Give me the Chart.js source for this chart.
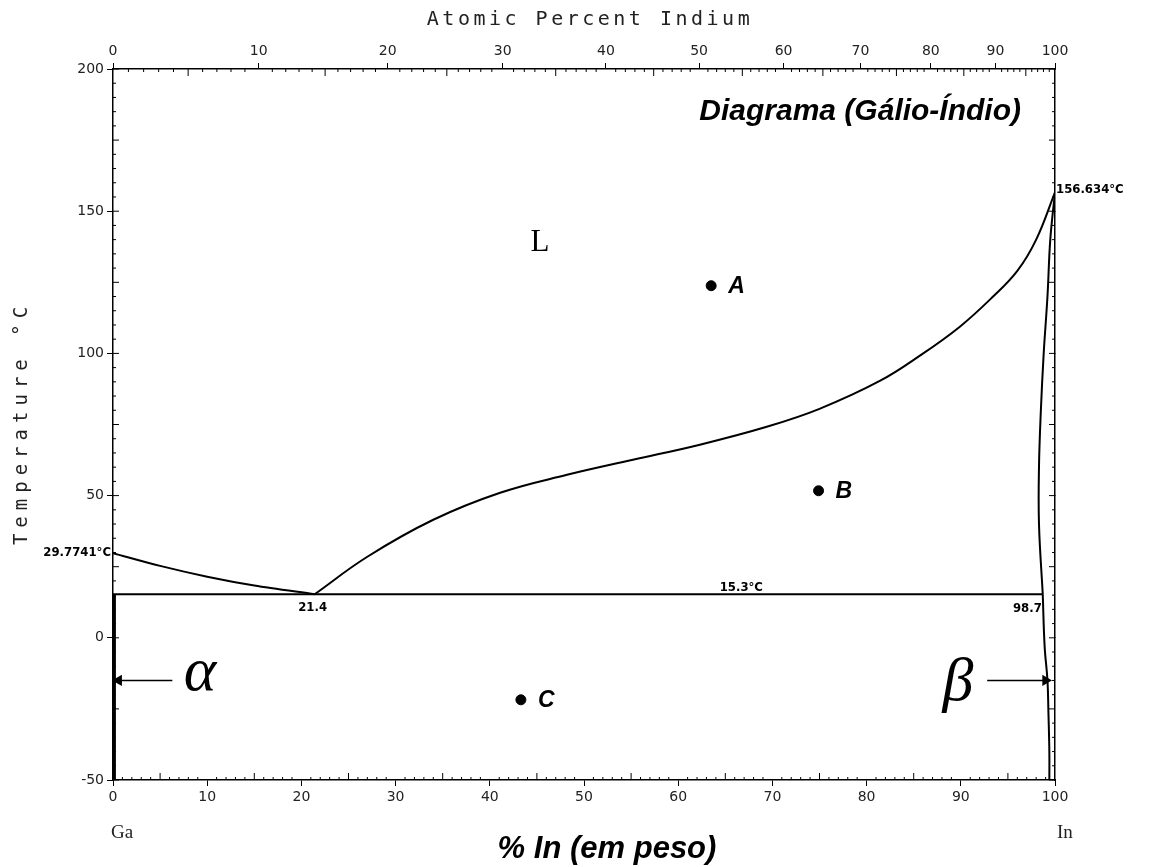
<!DOCTYPE html>
<html>
<head>
<meta charset="utf-8">
<script src="https://cdn.jsdelivr.net/npm/chart.js@4.4.1/dist/chart.umd.min.js"></script>
<style>
  body { margin: 0; background: #fff; }
  #wrap { width: 1157px; height: 867px; position: relative; }
</style>
</head>
<body>
<div id="wrap"><canvas id="chart"></canvas></div>
<script>
// weight percent In on x, temperature (°C) on y
const liqLeftX = [0, 5, 10, 15, 21.4];
const liqLeftT = [29.7741, 25.3, 21.5, 18.4, 15.3];

const liqRightX = [21.4, 27.0, 34.0, 41.1, 48.2, 55.2, 62.3, 69.4, 75.0, 81.4, 85.7, 89.9, 93.4, 96.0, 98.0, 100];
const liqRightT = [15.3, 28.5, 41.5, 51.0, 57.3, 62.6, 67.9, 74.2, 80.5, 90.3, 99.3, 109.4, 119.9, 129, 140, 156.634];

const solidusX = [98.7, 98.3, 98.3, 98.5, 98.8, 99.2, 99.5, 100];
const solidusT = [15.3, 40, 60, 80, 100, 120, 140, 156.634];

const solvusX = [98.7, 98.9, 99.2, 99.3, 99.4, 99.4];
const solvusT = [15.3, -3, -15, -26, -40, -50];

const eutecticX = [0, 98.7];
const eutecticT = [15.3, 15.3];

const alphaX = [0.15, 0.15];
const alphaT = [-50, 15.3];

const alphaArrowX = [6.3, 0.6];
const betaArrowX = [92.8, 99.0];
const arrowT = -15;

const pointNames = ['A', 'B', 'C'];
const pointX = [63.5, 74.9, 43.3];
const pointT = [123.8, 51.7, -21.8];

const weightTicks = [0, 10, 20, 30, 40, 50, 60, 70, 80, 90, 100];
const tempTicks = [-50, 0, 50, 100, 150, 200];
const atomicTicks = [0, 10, 20, 30, 40, 50, 60, 70, 80, 90, 100];

const M_GA = 69.723, M_IN = 114.818;
function atToWt(a) {
  if (a <= 0) return 0;
  if (a >= 100) return 100;
  return 100 * a * M_IN / (a * M_IN + (100 - a) * M_GA);
}

function pts(xs, ys) {
  return xs.map((x, i) => ({x: x, y: ys[i]}));
}

function lineSet(xs, ys, extra) {
  return Object.assign({
    type: 'scatter',
    data: pts(xs, ys),
    showLine: true,
    borderColor: '#000',
    borderWidth: 2,
    pointRadius: 0,
    fill: false,
  }, extra || {});
}

const tickFont = {family: 'DejaVu Sans', size: 14};

const decor = {
  id: 'decor',
  afterDraw(chart) {
    const ctx = chart.ctx;
    const xs = chart.scales.x;
    const ys = chart.scales.y;
    const area = chart.chartArea;
    ctx.save();
    ctx.strokeStyle = '#000';
    ctx.lineWidth = 1;

    // minor ticks, bottom and top
    for (let w = 0; w <= 100; w++) {
      const px = xs.getPixelForValue(w);
      const len = w % 10 === 0 ? 0 : (w % 5 === 0 ? 7 : 3);
      ctx.beginPath();
      ctx.moveTo(px, area.bottom);
      ctx.lineTo(px, area.bottom - len);
      ctx.stroke();
    }
    for (let a = 0; a <= 100; a++) {
      const px = xs.getPixelForValue(atToWt(a));
      const len = a % 10 === 0 ? 0 : (a % 5 === 0 ? 7 : 3);
      ctx.beginPath();
      ctx.moveTo(px, area.top);
      ctx.lineTo(px, area.top + len);
      ctx.stroke();
    }
    // minor ticks, left and right
    for (let t = -50; t <= 200; t += 5) {
      const py = ys.getPixelForValue(t);
      const len = t % 25 === 0 ? 6 : 3;
      ctx.beginPath();
      ctx.moveTo(area.left, py);
      ctx.lineTo(area.left + len, py);
      ctx.moveTo(area.right, py);
      ctx.lineTo(area.right - len, py);
      ctx.stroke();
    }

    ctx.textBaseline = 'middle';

    // axis titles
    ctx.fillStyle = '#222';
    ctx.font = '20px "DejaVu Sans Mono"';
    ctx.letterSpacing = '3.5px';
    ctx.textAlign = 'center';
    ctx.fillText('Atomic Percent Indium', 590, 20);
    ctx.save();
    ctx.translate(22, 423);
    ctx.rotate(-Math.PI / 2);
    ctx.font = '19px "DejaVu Sans Mono"';
    ctx.letterSpacing = '6px';
    ctx.fillText('Temperature °C', 0, 0);
    ctx.restore();
    ctx.letterSpacing = '0px';
    ctx.fillStyle = '#000';

    ctx.font = 'italic bold 30px "Liberation Sans"';
    ctx.textAlign = 'right';
    ctx.fillText('Diagrama (Gálio-Índio)', 1021, 112);
    ctx.font = 'italic bold 31px "Liberation Sans"';
    ctx.textAlign = 'center';
    ctx.fillText('% In (em peso)', 607, 849);

    ctx.font = '19px "Liberation Serif"';
    ctx.textAlign = 'left';
    ctx.fillStyle = '#222';
    ctx.fillText('Ga', 111, 833);
    ctx.fillText('In', 1057, 833);
    ctx.fillStyle = '#000';

    // phase labels
    ctx.font = '31px "Liberation Serif"';
    ctx.textAlign = 'center';
    ctx.fillText('L', 540, 243);
    ctx.font = 'italic 62px "Liberation Serif"';
    ctx.fillText('α', 200, 674);
    ctx.fillText('β', 958, 684);

    // point labels
    ctx.font = 'italic bold 23px "Liberation Sans"';
    ctx.textAlign = 'left';
    pointNames.forEach((n, i) => {
      ctx.fillText(n, xs.getPixelForValue(pointX[i]) + 17, ys.getPixelForValue(pointT[i]) + 1);
    });

    // value labels
    ctx.font = 'bold 13px "DejaVu Sans Condensed", "DejaVu Sans"';
    ctx.textAlign = 'right';
    ctx.fillText('29.7741°C', area.left - 2, ys.getPixelForValue(liqLeftT[0]));
    ctx.textAlign = 'center';
    ctx.fillText('21.4', xs.getPixelForValue(21.4) - 2, ys.getPixelForValue(15.3) + 13);
    ctx.fillText('15.3°C', xs.getPixelForValue(66.7), ys.getPixelForValue(15.3) - 7);
    ctx.textAlign = 'right';
    ctx.fillText('98.7', xs.getPixelForValue(98.6), ys.getPixelForValue(15.3) + 14);
    ctx.textAlign = 'left';
    ctx.fillText('156.634°C', area.right + 1, ys.getPixelForValue(156.634) - 3);
    ctx.restore();
  }
};

new Chart(document.getElementById('chart'), {
  type: 'scatter',
  data: {
    datasets: [
      lineSet(liqLeftX, liqLeftT, {tension: 0.3}),
      lineSet(liqRightX, liqRightT, {tension: 0.4}),
      lineSet(solidusX, solidusT, {tension: 0.4}),
      lineSet(solvusX, solvusT, {tension: 0.4}),
      lineSet(eutecticX, eutecticT),
      lineSet(alphaX, alphaT, {borderWidth: 3}),
      lineSet(alphaArrowX, [arrowT, arrowT], {
        borderWidth: 1.5,
        pointRadius: [0, 5],
        pointStyle: 'triangle',
        rotation: -90,
        pointBackgroundColor: '#000',
        pointBorderColor: '#000',
      }),
      lineSet(betaArrowX, [arrowT, arrowT], {
        borderWidth: 1.5,
        pointRadius: [0, 5],
        pointStyle: 'triangle',
        rotation: 90,
        pointBackgroundColor: '#000',
        pointBorderColor: '#000',
      }),
      {
        type: 'scatter',
        data: pts(pointX, pointT),
        pointRadius: 5,
        pointBackgroundColor: '#000',
        pointBorderColor: '#000',
      },
    ],
  },
  options: {
    responsive: true,
    maintainAspectRatio: false,
    animation: false,
    events: [],
    layout: {padding: 0},
    plugins: {legend: {display: false}, tooltip: {enabled: false}},
    scales: {
      x: {
        type: 'linear', position: 'bottom', min: 0, max: 100,
        afterBuildTicks: (s) => { s.ticks = weightTicks.map(v => ({value: v})); },
        afterFit: (s) => { s.height = 87; },
        ticks: {font: tickFont, color: '#222', padding: 3, autoSkip: false, maxRotation: 0},
        grid: {drawOnChartArea: false, tickLength: 6, color: '#000'},
        border: {display: true, color: '#000', width: 1.5},
      },
      x2: {
        type: 'linear', position: 'top', min: 0, max: 100,
        afterBuildTicks: (s) => { s.ticks = atomicTicks.map(a => ({value: atToWt(a)})); },
        afterFit: (s) => { s.height = 69; },
        ticks: {font: tickFont, color: '#222', padding: 3, autoSkip: false, maxRotation: 0,
          callback: (v, i) => atomicTicks[i]},
        grid: {drawOnChartArea: false, tickLength: 6, color: '#000'},
        border: {display: true, color: '#000', width: 1.5},
      },
      y: {
        type: 'linear', position: 'left', min: -50, max: 200,
        afterBuildTicks: (s) => { s.ticks = tempTicks.map(v => ({value: v})); },
        afterFit: (s) => { s.width = 113; },
        ticks: {font: tickFont, color: '#222', padding: 3},
        grid: {drawOnChartArea: false, tickLength: 6, color: '#000'},
        border: {display: true, color: '#000', width: 1.5},
      },
      y2: {
        type: 'linear', position: 'right', min: -50, max: 200,
        afterBuildTicks: (s) => { s.ticks = tempTicks.map(v => ({value: v})); },
        afterFit: (s) => { s.width = 102; },
        ticks: {display: false},
        grid: {drawOnChartArea: false, tickLength: 0, color: '#000'},
        border: {display: true, color: '#000', width: 1.5},
      },
    },
  },
  plugins: [decor],
});
</script>
</body>
</html>
